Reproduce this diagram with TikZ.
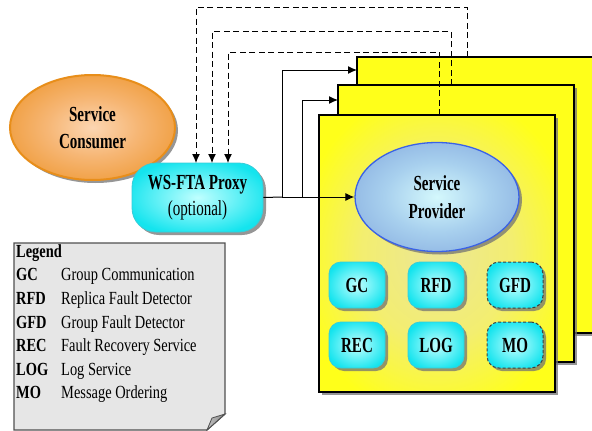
\documentclass[tikz,border=0pt]{standalone}
\usepackage{fontspec}
\setmainfont{Liberation Serif}[FakeStretch=0.78]
\newfontfamily\labfont{Liberation Serif}[FakeStretch=0.70]
\usetikzlibrary{shadows,arrows.meta,shapes.geometric}

\definecolor{panelY}{HTML}{FFFF1A}
\definecolor{panelIn}{HTML}{EBE696}
\definecolor{panelMid}{HTML}{F3EE70}
\definecolor{consIn}{HTML}{FCD6B2}
\definecolor{consMid}{HTML}{F6B674}
\definecolor{consOut}{HTML}{EE962E}
\definecolor{consB}{HTML}{E88E1A}
\definecolor{provIn}{HTML}{D4F8FC}
\definecolor{provMid}{HTML}{A8D0EE}
\definecolor{provOut}{HTML}{88AEE0}
\definecolor{provB}{HTML}{3A62E6}
\definecolor{cyIn}{HTML}{C0FFFF}
\definecolor{cyOut}{HTML}{14E4EE}
\definecolor{cyB}{HTML}{38CCD8}
\definecolor{legF}{HTML}{E6E6E6}
\definecolor{legB}{HTML}{505050}

\pgfdeclareradialshading{consShade}{\pgfpoint{0bp}{0bp}}{color(0bp)=(consIn); color(14bp)=(consMid); color(32bp)=(consOut); color(50bp)=(consOut)}
\pgfdeclareradialshading{provShade}{\pgfpoint{0bp}{0bp}}{color(0bp)=(provIn); color(16bp)=(provMid); color(32bp)=(provOut); color(50bp)=(provOut)}
\pgfdeclareradialshading{cyShade}{\pgfpoint{0bp}{0bp}}{color(0bp)=(cyIn); color(28bp)=(cyOut); color(50bp)=(cyOut)}
\pgfdeclareradialshading{panelShade}{\pgfpoint{0bp}{0bp}}{color(0bp)=(panelIn); color(16bp)=(panelMid); color(30bp)=(panelY); color(50bp)=(panelY)}

\begin{document}
\begin{tikzpicture}[x=1pt,y=-1pt,
  shd/.style={drop shadow={shadow xshift=3pt,shadow yshift=-3pt,fill=black!55,opacity=0.75}},
  panel/.style={rectangle,draw=black,line width=1.2pt,fill=panelY,inner sep=0pt,outer sep=0pt,
    minimum width=236pt,minimum height=277pt,shd},
  bigtxt/.style={font=\labfont\fontsize{21.5}{27.5}\selectfont\bfseries,align=center},
  mini/.style={rectangle,rounded corners=12pt,minimum width=56pt,minimum height=46pt,
    shading=cyShade,draw=cyB,line width=0.8pt,shd,inner sep=0pt,outer sep=0pt,
    font=\labfont\fontsize{21.5}{22}\selectfont\bfseries},
  minidash/.style={mini,draw=black!75,line width=1pt,dash pattern=on 3pt off 2pt},
  conn/.style={line width=1pt,-{Latex[length=9pt,width=8pt]}},
  dconn/.style={line width=1pt,dash pattern=on 6pt off 3.5pt,-{Latex[length=9pt,width=8pt]}},
  legtxt/.style={anchor=base west,inner sep=0pt,font=\fontsize{18.5}{20}\selectfont},
  legabbr/.style={legtxt,font=\fontsize{18.5}{20}\selectfont\bfseries}]
\useasboundingbox (0,0) rectangle (592,431);

% panels
\node[panel,minimum width=240pt,minimum height=276pt] (pA) at (477,195) {};
\node[panel] (pB) at (456,223.5) {};
\node[panel,shading=panelShade] (pC) at (437,253.5) {};

% dashed feedback lines
\draw[dconn] (pA.north -| 467,0) -- (467,7) -| (196,163);
\draw[dconn] (pB.north -| 451,0) -- (451,31) -| (212,163);
\draw[dconn] (pC.north -| 439,0) -- (439,52) -| (228,163);

% service consumer
\node[ellipse,minimum width=165pt,minimum height=105pt,inner sep=0pt,shading=consShade,
  draw=consB,line width=2pt,shd,bigtxt] (cons) at (92.5,127.5) {Service\\Consumer};

% proxy
\node[rectangle,rounded corners=24pt,minimum width=131pt,minimum height=69pt,inner sep=0pt,
  shading=cyShade,draw=cyB,line width=0.8pt,shd,align=center,
  font=\labfont\fontsize{21.5}{26}\selectfont] (proxy) at (197.5,197.5)
  {\textbf{WS-FTA Proxy}\\(optional)};

% service provider
\node[ellipse,minimum width=164pt,minimum height=109pt,inner sep=0pt,shading=provShade,
  draw=provB,line width=1.3pt,shd,bigtxt] (prov) at (437,197) {Service\\Provider};

% solid connectors
\coordinate (j1) at (282,197);
\coordinate (j2) at (302,197);
\draw[line width=1pt] (proxy.east) -- (j1);
\draw[conn] (j1) -- (prov.west);
\draw[conn] (j1) |- (pA.west |- 0,70);
\draw[conn] (j2) |- (pB.west |- 0,100);

% components
\node[mini] (gc) at (357,285) {GC};
\node[mini] (rfd) at (436,285) {RFD};
\node[minidash] (gfd) at (515,285) {GFD};
\node[mini] (rec) at (357,345) {REC};
\node[mini] (log) at (436,345) {LOG};
\node[minidash] (mo) at (515,345) {MO};

% legend note
\draw[fill=legF,draw=legB,line width=1.3pt] (14,243) -- (225,243) -- (225,414) -- (207,430) -- (14,430) -- cycle;
\shade[left color=black!25,right color=black!45,draw=legB,line width=0.8pt] (225,414) -- (212,418) -- (207,430) -- cycle;

\node[legabbr] (lgh) at (16,257) {Legend};
\node[legabbr] (a1) at (16,280) {GC};  \node[legtxt] (d1) at (61,280) {Group Communication};
\node[legabbr] (a2) at (16,304) {RFD}; \node[legtxt] (d2) at (61,304) {Replica Fault Detector};
\node[legabbr] (a3) at (16,328) {GFD}; \node[legtxt] (d3) at (61,328) {Group Fault Detector};
\node[legabbr] (a4) at (16,351) {REC}; \node[legtxt] (d4) at (61,351) {Fault Recovery Service};
\node[legabbr] (a5) at (16,375) {LOG}; \node[legtxt] (d5) at (61,375) {Log Service};
\node[legabbr] (a6) at (16,398) {MO};  \node[legtxt] (d6) at (61,398) {Message Ordering};
\end{tikzpicture}
\end{document}
